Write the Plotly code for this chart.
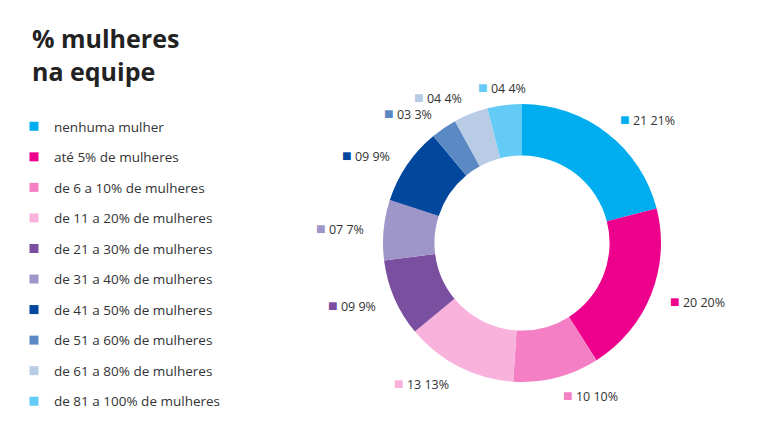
import math
import plotly.graph_objects as go

categories = [
    "nenhuma mulher",
    "até 5% de mulheres",
    "de 6 a 10% de mulheres",
    "de 11 a 20% de mulheres",
    "de 21 a 30% de mulheres",
    "de 31 a 40% de mulheres",
    "de 41 a 50% de mulheres",
    "de 51 a 60% de mulheres",
    "de 61 a 80% de mulheres",
    "de 81 a 100% de mulheres",
]
values = [21, 20, 10, 13, 9, 7, 9, 3, 4, 4]
value_labels = ["21", "20", "10", "13", "09", "07", "09", "03", "04", "04"]
percent_labels = ["21%", "20%", "10%", "13%", "9%", "7%", "9%", "3%", "4%", "4%"]
colors = ["#00AEEF", "#EC008C", "#F47FC4", "#F9B2DC", "#7B4FA0",
          "#9E95C9", "#00479D", "#5B89C4", "#B8CCE6", "#63CBF5"]

FONT = "Open Sans"
TXT = "#333333"
W, H = 757, 448
# pie geometry (pixels, figure coordinates)
CX, CY, R = 514, 235, 139
LABEL_R = 157

fig = go.Figure()

fig.add_trace(go.Pie(
    labels=categories,
    values=values,
    sort=False,
    direction="clockwise",
    rotation=0,
    hole=0.63,
    marker=dict(colors=colors, line=dict(color="white", width=0)),
    textinfo="none",
    hoverinfo="label+value",
    showlegend=False,
    domain=dict(x=[(CX - R) / W, (CX + R) / W], y=[(H - CY - R) / H, (H - CY + R) / H]),
))

for i, (cat, col) in enumerate(zip(categories, colors)):
    fig.add_trace(go.Scatter(
        x=[None], y=[None], mode="markers", name=cat,
        marker=dict(symbol="square", size=9, color=col),
        legendgroup=f"g{i}", showlegend=True,
    ))

annotations = [
    dict(text="<b>% mulheres<br>na equipe</b>", x=22 / W, y=1 - 11 / H,
         xref="paper", yref="paper", xanchor="left", yanchor="top",
         align="left", showarrow=False,
         font=dict(family=FONT, size=25, color="#222222")),
]

total = sum(values)
cum = 0
for v, vl, pl, col in zip(values, value_labels, percent_labels, colors):
    mid = (cum + v / 2) / total * 2 * math.pi
    cum += v
    sx, sy = math.sin(mid), -math.cos(mid)
    px_ = CX + LABEL_R * sx
    py_ = CY + LABEL_R * sy
    if abs(sx) < 0.2:
        xa = "center"
    elif sx > 0:
        xa = "left"
    else:
        xa = "right"
    annotations.append(dict(
        text=f"<span style='color:{col};font-size:16px'>■</span> {vl} {pl}",
        x=px_ / W, y=1 - py_ / H, xref="paper", yref="paper",
        xanchor=xa, yanchor="middle",
        showarrow=False,
        font=dict(family=FONT, size=12.5, color=TXT),
    ))

fig.update_layout(
    width=W, height=H,
    margin=dict(l=0, r=0, t=0, b=0),
    paper_bgcolor="white", plot_bgcolor="white",
    xaxis=dict(visible=False), yaxis=dict(visible=False),
    showlegend=True,
    legend=dict(
        x=6 / W, y=1 - 103 / H, xanchor="left", yanchor="top",
        font=dict(family=FONT, size=13.5, color=TXT),
        tracegroupgap=10, itemwidth=30, bgcolor="rgba(0,0,0,0)",
    ),
    annotations=annotations,
)

fig.write_html("out.html")
